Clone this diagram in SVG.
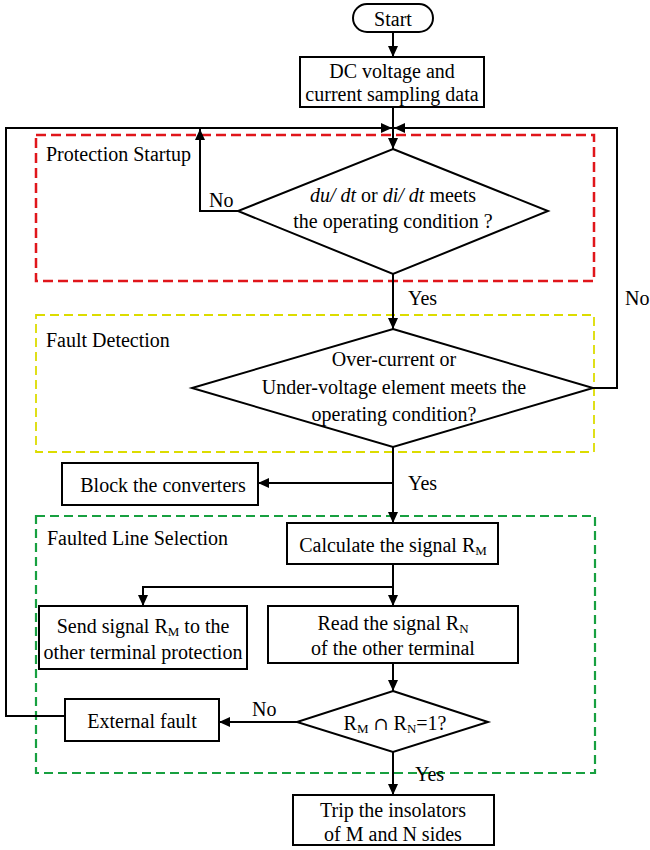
<svg xmlns="http://www.w3.org/2000/svg" width="650" height="850" viewBox="0 0 650 850">
<style>
  text { font-family: "Liberation Serif", "Times New Roman", serif; font-size: 20px; fill: #000; }
  .c { text-anchor: middle; }
  .sub { font-size: 13px; }
  .box { fill: #fff; stroke: #000; stroke-width: 2; }
  .ln { fill: none; stroke: #000; stroke-width: 2; }
  .arr { marker-end: url(#ah); }
  .red { fill: none; stroke: #e0161b; stroke-width: 2.5; stroke-dasharray: 10 5; }
  .yel { fill: none; stroke: #dcdc00; stroke-width: 1.8; stroke-dasharray: 9 5; }
  .grn { fill: none; stroke: #17a040; stroke-width: 2.2; stroke-dasharray: 9 5; }
</style>
<defs>
  <marker id="ah" markerUnits="userSpaceOnUse" markerWidth="12" markerHeight="10" refX="11" refY="5" orient="auto">
    <path d="M0,0 L11,5 L0,10 z" fill="#000"/>
  </marker>
</defs>
<rect width="650" height="850" fill="#fff"/>

<g id="regions">
  <rect class="red" x="36" y="135" width="558" height="146"/>
  <text x="46" y="161">Protection Startup</text>
  <rect class="yel" x="36" y="315" width="558" height="137"/>
  <text x="46" y="347">Fault Detection</text>
  <rect class="grn" x="36" y="516" width="559" height="257"/>
  <text x="47" y="545">Faulted Line Selection</text>
</g>

<g id="connectors">
  <path class="ln arr" d="M393,32 V57"/>
  <path class="ln arr" d="M393,107 V149"/>
  <path class="ln arr" d="M238,211 H200 V129"/>
  <path class="ln arr" d="M393,274 V329"/>
  <path class="ln arr" d="M593,388 H617 V128 H394"/>
  <path class="ln arr" d="M393,447 V523"/>
  <path class="ln arr" d="M393,483 H258"/>
  <path class="ln arr" d="M393,564 V606"/>
  <path class="ln arr" d="M393,587 H143 V606"/>
  <path class="ln arr" d="M393,663 V691"/>
  <path class="ln arr" d="M297,722 H219"/>
  <path class="ln arr" d="M65,716 H6 V128 H392"/>
  <path class="ln arr" d="M393,752 V795"/>
  <text x="209" y="207">No</text>
  <text x="408" y="305">Yes</text>
  <text x="625" y="305">No</text>
  <text x="408" y="490">Yes</text>
  <text x="252" y="716">No</text>
  <text x="415" y="781">Yes</text>
</g>

<g id="start">
  <rect class="box" x="353" y="4" width="80" height="28" rx="14"/>
  <text class="c" x="393" y="26">Start</text>
</g>

<g id="sampling">
  <rect class="box" x="300" y="57" width="184" height="50"/>
  <text class="c" x="392" y="78">DC voltage and</text>
  <text class="c" x="392" y="101">current sampling data</text>
</g>

<g id="decision-startup">
  <polygon class="box" points="393,149 548,211 393,274 238,211"/>
  <text class="c" x="393" y="202"><tspan font-style="italic">du/ dt</tspan> or <tspan font-style="italic">di/ dt</tspan> meets</text>
  <text class="c" x="393" y="228">the operating condition ?</text>
</g>

<g id="decision-detection">
  <polygon class="box" points="393,329 593,388 393,447 192,388"/>
  <text class="c" x="394" y="366">Over-current or</text>
  <text class="c" x="394" y="394">Under-voltage element meets the</text>
  <text class="c" x="394" y="421">operating condition?</text>
</g>

<g id="block">
  <rect class="box" x="62" y="463" width="196" height="42"/>
  <text class="c" x="163" y="492">Block the converters</text>
</g>

<g id="calculate">
  <rect class="box" x="287" y="523" width="211" height="41"/>
  <text class="c" x="393" y="552">Calculate the signal R<tspan class="sub" dy="3">M</tspan></text>
</g>

<g id="send">
  <rect class="box" x="39" y="606" width="208" height="63"/>
  <text class="c" x="143" y="633">Send signal R<tspan class="sub" dy="3">M</tspan><tspan dy="-3"> to the</tspan></text>
  <text class="c" x="143" y="659">other terminal protection</text>
</g>

<g id="read">
  <rect class="box" x="268" y="606" width="250" height="57"/>
  <text class="c" x="393" y="630">Read the signal R<tspan class="sub" dy="3">N</tspan></text>
  <text class="c" x="393" y="655">of the other terminal</text>
</g>

<g id="decision-select">
  <polygon class="box" points="393,691 488,722 393,752 297,722"/>
  <text class="c" x="395" y="730">R<tspan class="sub" dy="3">M</tspan><tspan dy="-3"> </tspan><tspan font-family="'DejaVu Serif', 'Liberation Serif', serif" font-size="18">∩</tspan><tspan> R</tspan><tspan class="sub" dy="3">N</tspan><tspan dy="-3">=1?</tspan></text>
</g>

<g id="external">
  <rect class="box" x="65" y="699" width="154" height="42"/>
  <text class="c" x="142" y="728">External fault</text>
</g>

<g id="trip">
  <rect class="box" x="293" y="795" width="201" height="50"/>
  <text class="c" x="393" y="817">Trip the insolators</text>
  <text class="c" x="393" y="841">of M and N sides</text>
</g>
</svg>
